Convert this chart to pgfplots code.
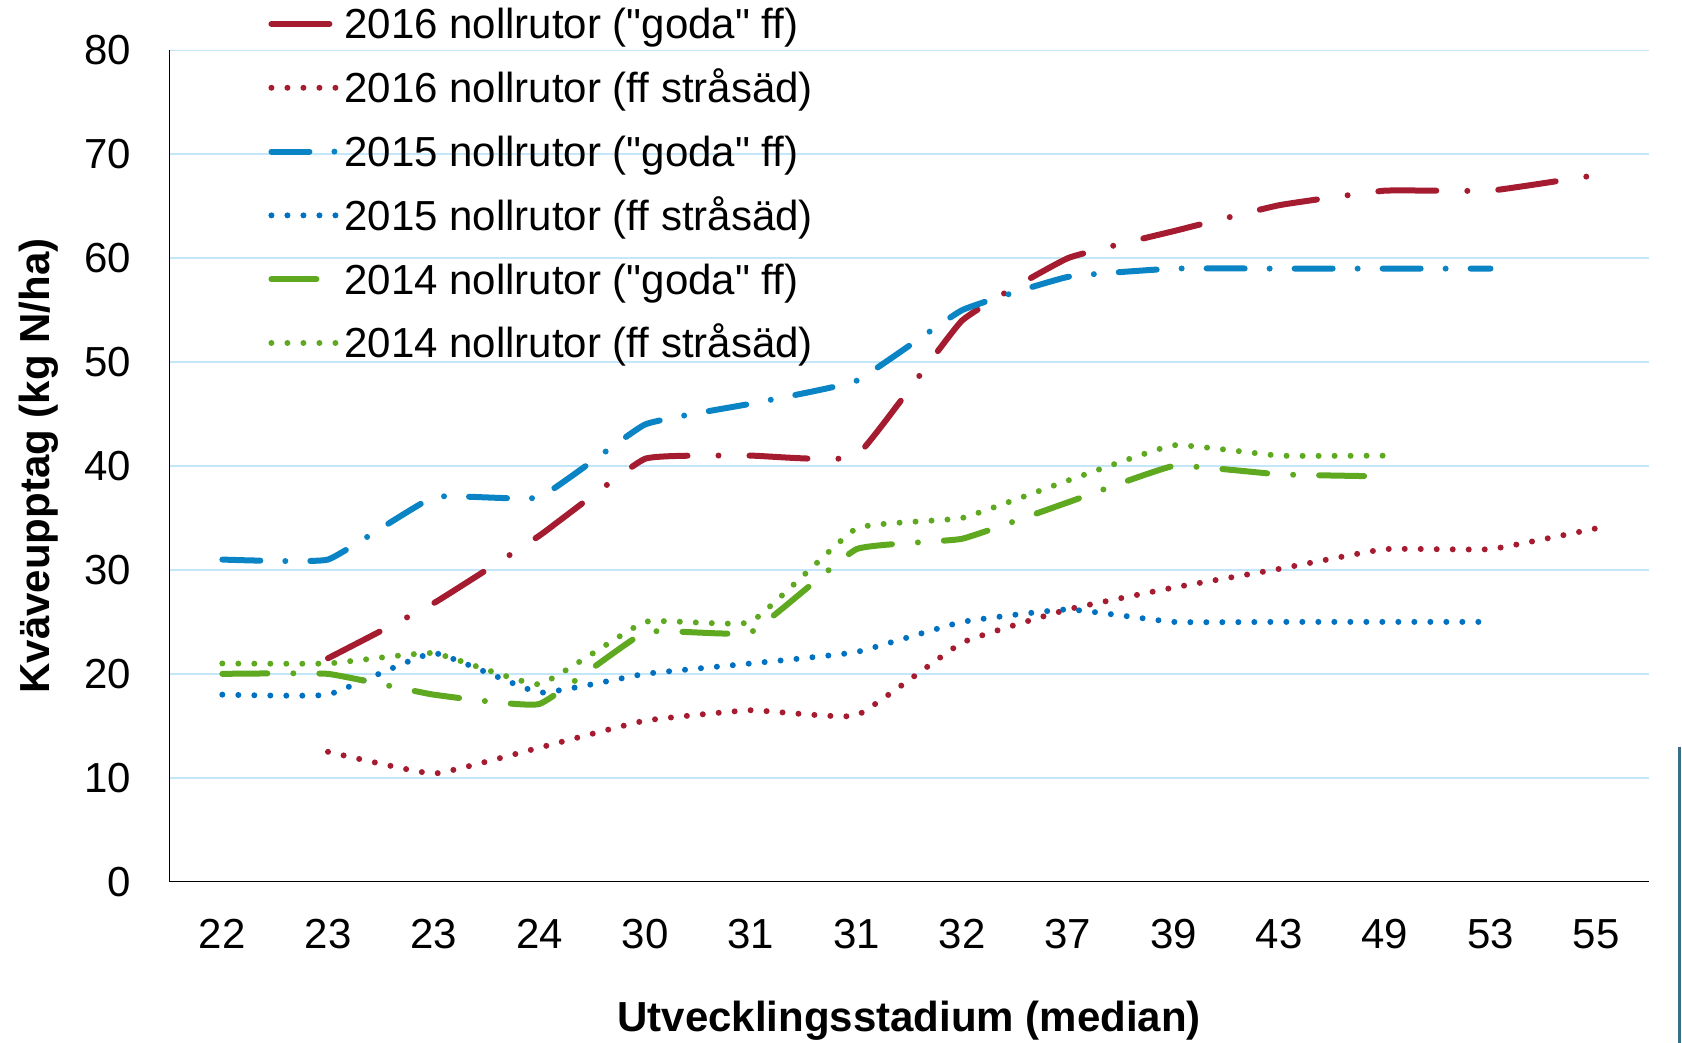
\documentclass[border=0pt]{standalone}
\usepackage{fontspec}
\setmainfont{Liberation Sans}
\newfontfamily\qfont{Liberation Sans}
\usepackage{pgfplots}
\pgfplotsset{compat=1.18}
\definecolor{cred}{HTML}{A51C30}
\definecolor{cblueA}{HTML}{0A84C4}
\definecolor{cblueB}{HTML}{0070C0}
\definecolor{cgreen}{HTML}{5EA91F}
\definecolor{cgrid}{HTML}{C3E7F8}
\definecolor{cart}{HTML}{3A6D8C}
\newcommand{\q}{{\qfont"}}
\begin{document}
\begin{tikzpicture}
\begin{axis}[
  scale only axis, width=739.75pt, height=415.65pt,
  xmin=-0.5, xmax=13.5, ymin=0, ymax=80,
  xtick={0,...,13},
  xticklabels={22,23,23,24,30,31,31,32,37,39,43,49,53,55},
  ytick={0,10,...,80},
  ymajorgrids, major grid style={cgrid, line width=0.8pt},
  axis lines*=left, axis line style={black, line width=0.8pt, -},
  major tick length=0pt,
  tick label style={font=\fontsize{21}{25}\selectfont},
  /pgf/number format/assume math mode=true,
  yticklabel style={inner sep=0pt, anchor=east, xshift=-19pt},
  xticklabel style={inner sep=0pt, anchor=north, text height=15pt, yshift=-18.3pt},
  xlabel={Utvecklingsstadium (median)},
  ylabel={Kväveupptag (kg N/ha)},
  label style={font=\bfseries\fontsize{21}{25}\selectfont},
  xlabel style={at={(rel axis cs:0.5,-0.1807)}, anchor=base},
  ylabel style={at={(rel axis cs:-0.0812,0.5)}, anchor=base},
  clip=false,
  legend cell align=left,
  legend image code/.code={\draw[#1] (0pt,0pt) -- (33pt,0pt);},
  legend style={draw=none, fill=none, inner sep=0pt,
    at={(rel axis cs:0.0666,1.0503)}, anchor=north west,
    font=\fontsize{21}{25}\selectfont,
    nodes={inner sep=0pt, text height=15pt, text depth=0pt},
    row sep=16.9pt,
    /tikz/every odd column/.append style={column sep=2pt}},
  every axis plot/.append style={smooth, tension=0.2, line cap=round, line join=round, line width=3pt},
]
\addplot[cred, dash pattern=on 29pt off 15.5pt on 0pt off 15.5pt] coordinates {
 (1,21.5)(2,26.8)(3,33.3)(4,40.7)(5,41)(6,41)(7,54)(8,60)(9,62.6)(10,65.1)(11,66.5)(12,66.5)(13,68)};
\addlegendentry{2016 nollrutor (\q goda\q{} ff)}
\addplot[cred, dash pattern=on 0pt off 8pt] coordinates {
 (1,12.5)(2,10.4)(3,12.9)(4,15.5)(5,16.5)(6,16)(7,23)(8,26.2)(9,28.3)(10,30.1)(11,32)(12,32)(13,34)};
\addlegendentry{2016 nollrutor (ff stråsäd)}
\addplot[cblueA, dash pattern=on 19pt off 12.5pt on 0pt off 12.5pt] coordinates {
 (0,31)(1,31)(2,37)(3,37)(4,44)(5,46)(6,48.2)(7,55)(8,58.2)(9,59)(10,59)(11,59)(12,59)};
\addlegendentry{2015 nollrutor (\q goda\q{} ff)}
\addplot[cblueB, dash pattern=on 0pt off 8pt] coordinates {
 (0,18)(1,18)(2,22)(3,18.2)(4,20)(5,21)(6,22.1)(7,25)(8,26.2)(9,25)(10,25)(11,25)(12,25)};
\addlegendentry{2015 nollrutor (ff stråsäd)}
\addplot[cgreen, dash pattern=on 22.5pt off 13pt on 0pt off 13pt] coordinates {
 (0,20)(1,20)(2,18)(3,17.1)(4,24)(5,24)(6,32)(7,33)(8,36.5)(9,40)(10,39.2)(11,39)};
\addlegendentry{2014 nollrutor (\q goda\q{} ff)}
\addplot[cgreen, dash pattern=on 0pt off 8pt] coordinates {
 (0,21)(1,21)(2,22)(3,19)(4,25)(5,25)(6,34)(7,35)(8,38.6)(9,42)(10,41)(11,41)};
\addlegendentry{2014 nollrutor (ff stråsäd)}
\draw[cart, line width=1.5pt] (rel axis cs:1.0203,0.1624) -- (rel axis cs:1.0203,-0.25);
\coordinate (bbsw) at (rel axis cs:-0.11457,-0.19404);
\coordinate (bbne) at (rel axis cs:1.02231,1.06063);
\end{axis}
\pgfresetboundingbox
\path[use as bounding box] (bbsw) rectangle (bbne);
\end{tikzpicture}
\end{document}
